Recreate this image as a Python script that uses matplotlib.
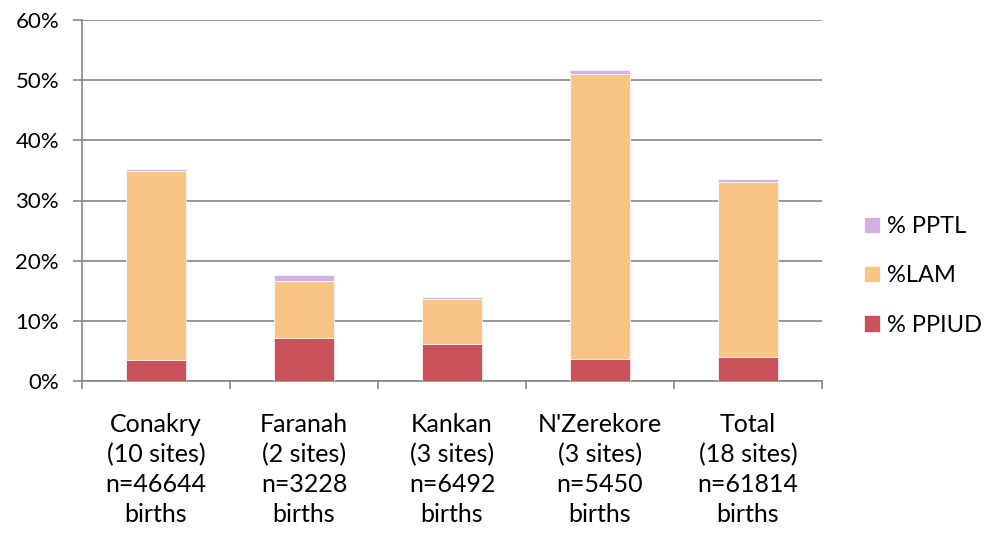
import matplotlib
matplotlib.use("Agg")
import matplotlib.pyplot as plt
from matplotlib.ticker import FixedLocator, FuncFormatter

plt.rcParams['font.family'] = ['Lato', 'DejaVu Sans']

categories = ["Conakry\n(10 sites)\nn=46644\nbirths",
              "Faranah\n(2 sites)\nn=3228\nbirths",
              "Kankan\n(3 sites)\nn=6492\nbirths",
              "N'Zerekore\n(3 sites)\nn=5450\nbirths",
              "Total\n(18 sites)\nn=61814\nbirths"]
ppiud = [3.5, 7.1, 6.2, 3.6, 4.0]
lam = [31.4, 9.5, 7.4, 47.4, 29.1]
pptl = [0.3, 1.0, 0.4, 0.7, 0.4]

c_ppiud = "#C9525B"
c_lam = "#F9C585"
c_pptl = "#D5B1E1"
grid_c = "#868686"

fig = plt.figure(figsize=(9.88, 5.38), dpi=100)
ax = fig.add_axes([82/988, 1-381/538, 740/988, 361/538])

x = list(range(len(categories)))
w = 0.4
b1 = ax.bar(x, ppiud, w, color=c_ppiud, edgecolor="white", linewidth=0.5, label="% PPIUD", zorder=3)
bottom2 = ppiud
b2 = ax.bar(x, lam, w, bottom=bottom2, color=c_lam, edgecolor="white", linewidth=0.5, label="%LAM", zorder=3)
bottom3 = [a + b for a, b in zip(ppiud, lam)]
b3 = ax.bar(x, pptl, w, bottom=bottom3, color=c_pptl, edgecolor="white", linewidth=0.5, label="% PPTL", zorder=3)

ax.set_xlim(-0.5, len(categories) - 0.5)
ax.set_ylim(0, 60)
ax.set_yticks(range(0, 61, 10))
ax.yaxis.set_major_formatter(FuncFormatter(lambda v, p: f"{int(v)}%"))
ax.grid(axis='y', color=grid_c, linewidth=1.2, zorder=0)

ax.xaxis.set_major_locator(FixedLocator([i - 0.5 for i in range(len(categories) + 1)]))
ax.xaxis.set_minor_locator(FixedLocator(x))
ax.set_xticklabels([], minor=False)
ax.set_xticklabels(categories, minor=True, fontsize=18, linespacing=1.36)
ax.tick_params(axis='x', which='major', length=6, color=grid_c, width=1.2)
ax.tick_params(axis='x', which='minor', length=0, pad=23)
ax.tick_params(axis='y', length=6.5, color=grid_c, width=1.2, labelsize=16, pad=10)

for s in ['top', 'right']:
    ax.spines[s].set_visible(False)
for s in ['left', 'bottom']:
    ax.spines[s].set_color(grid_c)
    ax.spines[s].set_linewidth(1.2)

handles = [b3, b2, b1]
fig.legend(handles, [h.get_label() for h in handles], loc='center left',
           bbox_to_anchor=(864/988, 1-276/538), frameon=False, fontsize=17,
           handlelength=0.68, handleheight=0.68, handletextpad=0.28, labelspacing=1.2,
           borderpad=0.0, borderaxespad=0.0)

fig.savefig("out.png", dpi=100)
